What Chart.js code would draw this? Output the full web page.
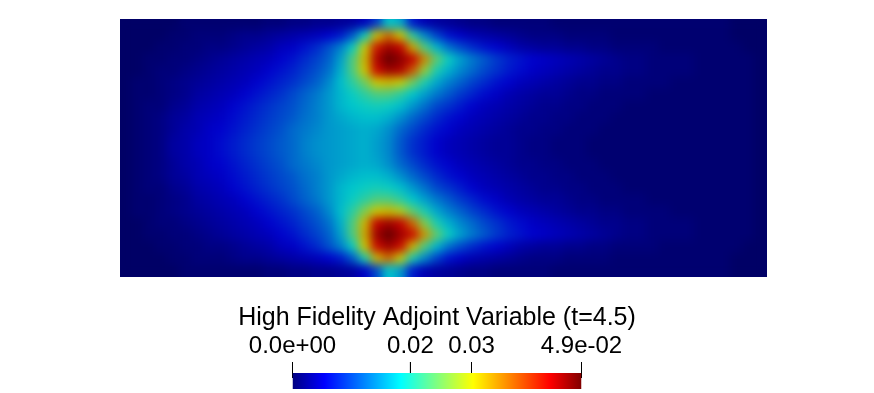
<!DOCTYPE html>
<html>
<head>
<meta charset="utf-8">
<script src="https://cdn.jsdelivr.net/npm/chart.js@4"></script>
<style>
	html, body { margin: 0; padding: 0; background: #fff; }
	#page { position: relative; width: 874px; height: 393px; overflow: hidden; }
	#fieldBox { position: absolute; left: 120px; top: 19px; width: 647px; height: 258px; }
	#barBox { position: absolute; left: 0; top: 295px; width: 874px; height: 98px; }
</style>
</head>
<body>
<div id="page">
	<div id="fieldBox"><canvas id="field" width="647" height="258"></canvas></div>
	<div id="barBox"><canvas id="bar" width="874" height="98"></canvas></div>
</div>
<script>
var titleText = "High Fidelity Adjoint Variable (t=4.5)";
var rangeMax = 0.049;
var tickValues = [0, 0.02, 0.03035, 0.049];
var tickLabels = ["0.0e+00", "0.02", "0.03", "4.9e-02"];

// jet colour map as the legend shows it
var jetStops = [0, 0.11, 0.375, 0.625, 0.89, 1];
var jetColours = [[0, 0, 128], [0, 0, 255], [0, 255, 255], [255, 255, 0], [255, 0, 0], [128, 0, 0]];
var surfaceShade = 0.8;

// field values, in units of 1e-3, top row first
var fieldRows = [
	[0,0,0,0,0,.5,.5,.5,.5,.5,.5,.5,1,1,1.5,1.5,2,2,2.5,3,4.5,9,18,16,7,4,3,2.5,2,1.5,1.5,1,1,1,1,1,.5,.5,.5,.5,.5,.5,.5,.5,.5,.5,.5,.5,.5,.5,.5,0,0,0],
	[0,0,0,0,.5,.5,1,1,1,1.5,2,2,2.5,3,3.5,4,4.5,5.5,7,11,19,31,37,31,21,14,9.5,6.5,5,4,3.5,3,2.5,2,1.5,1.5,1.5,1,1,1,1,.5,.5,.5,.5,.5,.5,.5,.5,.5,.5,0,0,0],
	[0,0,0,.5,.5,1,1,1.5,1.5,2,2.5,3,3.5,4.5,5,6.5,8,10.5,13.5,19,30,42,46,44,33,23,17,12.5,10,8,6.5,5.5,4.5,3.5,3,2.5,2.5,2,2,1.5,1.5,1,1,1,1,.5,.5,.5,.5,.5,.5,.5,0,0],
	[0,0,.5,.5,1,1,1.5,2,2.5,3,3.5,4,4.5,5.5,6.5,8,9.5,11.5,15.5,23,32,45,49,47,44,35,24,19,15.5,13,11,9,7.5,6.5,5.5,5,4.5,4,3.5,3,2.5,2,1.5,1.5,1,1,1,1,.5,.5,.5,.5,.5,0],
	[0,0,.5,1,1,1.5,2,2.5,3,3.5,4,4.5,5.5,6.5,7.5,9,10.5,12.5,16.5,23,31,43,46,45,38,27,20,16.5,14,12,10,8.5,7,6,5,4.5,4,3.5,3,2.5,2,2,1.5,1.5,1,1,1,1,.5,.5,.5,.5,.5,0],
	[0,.5,.5,1,1.5,2,2.5,3,3.5,4,4.5,5.5,6.5,7.5,8.5,10,11.5,14,17.5,21,25,31,32,30,25,20,16,13.5,11.5,9.5,8,6.5,5.5,4.5,4,3.5,3,2.5,2,2,1.5,1.5,1,1,1,1,.5,.5,.5,.5,.5,.5,.5,0],
	[0,.5,.5,1,1.5,2,3,3.5,4,4.5,5.5,6.5,7.5,8.5,10,11.5,13,15,17,19,21,23,23,21,18,15.5,13,11,9,7.5,6,5,4,3.5,3,2.5,2.5,2,1.5,1.5,1,1,1,1,.5,.5,.5,.5,.5,.5,.5,.5,.5,0],
	[0,.5,1,1,2,2.5,3.5,4,4.5,5.5,6.5,7.5,8.5,9.5,10.5,12,13.5,15,17,18,19,19.5,19,17.5,15,12.5,10,8.5,7,5.5,4.5,4,3.5,3,2.5,2,2,1.5,1.5,1,1,1,.5,.5,.5,.5,.5,.5,.5,.5,.5,.5,.5,0],
	[0,.5,1,1.5,2.5,3,4,4.5,5,6,7,8,9,10,11,12.5,13.5,15,16,17,17.5,17.5,16.5,14.5,12,10,8,6.5,5.5,4.5,4,3.5,3,2.5,2,2,1.5,1.5,1,1,1,.5,.5,.5,.5,.5,.5,.5,.5,.5,.5,.5,.5,0],
	[0,.5,1,1.5,2.5,3.5,4,5,5.5,6.5,7.5,8.5,9.5,10.5,12,13,14,15,15.5,16,16.5,16,14.5,12,10,8,6.5,5.5,4.5,4,3.5,3,2.5,2,2,1.5,1.5,1,1,1,.5,.5,.5,.5,.5,.5,.5,.5,.5,.5,.5,.5,.5,0],
	[0,.5,1,1.5,3,3.5,4.5,5,6,7,8,9,10,11,12,13.5,14.5,15,15.5,16,16.5,15.5,14,11,8.5,7,5.5,4.5,4,3.5,3,2.5,2.5,2,1.5,1.5,1,1,1,.5,.5,.5,.5,.5,.5,.5,.5,.5,.5,.5,.5,.5,.5,0],
	[0,.5,1,1.5,3,3.5,4.5,5,6,7,8,9,10,11,12,13.5,14.5,15,15.5,16,16.5,15.5,14,11,8.5,7,5.5,4.5,4,3.5,3,2.5,2.5,2,1.5,1.5,1,1,1,.5,.5,.5,.5,.5,.5,.5,.5,.5,.5,.5,.5,.5,.5,0],
	[0,.5,1,1.5,2.5,3.5,4,5,5.5,6.5,7.5,8.5,9.5,10.5,12,13,14,15,15.5,16,16.5,16,14.5,12,10,8,6.5,5.5,4.5,4,3.5,3,2.5,2,2,1.5,1.5,1,1,1,.5,.5,.5,.5,.5,.5,.5,.5,.5,.5,.5,.5,.5,0],
	[0,.5,1,1.5,2.5,3,4,4.5,5,6,7,8,9,10,11,12.5,13.5,15,16,17,17.5,17.5,16.5,14.5,12,10,8,6.5,5.5,4.5,4,3.5,3,2.5,2,2,1.5,1.5,1,1,1,.5,.5,.5,.5,.5,.5,.5,.5,.5,.5,.5,.5,0],
	[0,.5,1,1,2,2.5,3.5,4,4.5,5.5,6.5,7.5,8.5,9.5,10.5,12,13.5,15,17,18,19,19.5,19,17.5,15,12.5,10,8.5,7,5.5,4.5,4,3.5,3,2.5,2,2,1.5,1.5,1,1,1,.5,.5,.5,.5,.5,.5,.5,.5,.5,.5,.5,0],
	[0,.5,.5,1,1.5,2,3,3.5,4,4.5,5.5,6.5,7.5,8.5,10,11.5,13,15,17,19,21,23,23,21,18,15.5,13,11,9,7.5,6,5,4,3.5,3,2.5,2.5,2,1.5,1.5,1,1,1,1,.5,.5,.5,.5,.5,.5,.5,.5,.5,0],
	[0,.5,.5,1,1.5,2,2.5,3,3.5,4,4.5,5.5,6.5,7.5,8.5,10,11.5,14,17.5,21,26,31,32,29,24,20,16,13.5,11.5,9.5,8,6.5,5.5,4.5,4,3.5,3,2.5,2,2,1.5,1.5,1,1,1,1,.5,.5,.5,.5,.5,.5,.5,0],
	[0,0,.5,1,1,1.5,2,2.5,3,3.5,4,4.5,5.5,6.5,7.5,9,10.5,12.5,16.5,23,32,44,46,44,37,26,20,16.5,14,12,10,8.5,7,6,5,4.5,4,3.5,3,2.5,2,2,1.5,1.5,1,1,1,1,.5,.5,.5,.5,.5,0],
	[0,0,.5,.5,1,1,1.5,2,2.5,3,3.5,4,4.5,5.5,6.5,8,9.5,11.5,15.5,23,33,46,49,46,43,34,24,19,15.5,13,11,9,7.5,6.5,5.5,5,4.5,4,3.5,3,2.5,2,1.5,1.5,1,1,1,1,.5,.5,.5,.5,.5,0],
	[0,0,0,.5,.5,1,1,1.5,1.5,2,2.5,3,3.5,4.5,5,6.5,8,10.5,13.5,19,31,43,46,43,32,23,17,12.5,10,8,6.5,5.5,4.5,3.5,3,2.5,2.5,2,2,1.5,1.5,1,1,1,1,.5,.5,.5,.5,.5,.5,.5,0,0],
	[0,0,0,0,.5,.5,1,1,1,1.5,2,2,2.5,3,3.5,4,4.5,5.5,7,11,20,32,37,30,20,14,9.5,6.5,5,4,3.5,3,2.5,2,1.5,1.5,1.5,1,1,1,1,.5,.5,.5,.5,.5,.5,.5,.5,.5,.5,0,0,0],
	[0,0,0,0,0,.5,.5,.5,.5,.5,.5,.5,1,1,1.5,1.5,2,2,2.5,3,5,10,18,15,7,4,3,2.5,2,1.5,1.5,1,1,1,1,1,.5,.5,.5,.5,.5,.5,.5,.5,.5,.5,.5,.5,.5,.5,.5,0,0,0]
];

function jetRgb(t, shade) {
	var k = 1;
	while (k < jetStops.length - 1 && t > jetStops[k]) k++;
	var f = (t - jetStops[k - 1]) / (jetStops[k] - jetStops[k - 1]);
	f = Math.max(0, Math.min(1, f));
	var c = [0, 1, 2].map(function(n) {
		return Math.round((jetColours[k - 1][n] + (jetColours[k][n] - jetColours[k - 1][n]) * f) * shade);
	});
	return "rgb(" + c.join(",") + ")";
}

// one square point per grid cell
var cells = [];
fieldRows.forEach(function(row, j) {
	row.forEach(function(v, i) {
		cells.push({ x: i + 0.5, y: j + 0.5, v: v });
	});
});

// melts the cell edges together after the points are drawn
// drawn a few times so the canvas edge doesn't stay sharp
var smoothField = {
	id: "smoothField",
	afterDatasetsDraw: function(chart) {
		var copy = document.createElement("canvas");
		copy.width = chart.width;
		copy.height = chart.height;
		copy.getContext("2d").drawImage(chart.canvas, 0, 0);
		var ctx = chart.ctx;
		ctx.save();
		ctx.filter = "blur(5px)";
		for (var n = 0; n < 4; n++) ctx.drawImage(copy, 0, 0);
		ctx.restore();
	}
};

new Chart(document.getElementById("field"), {
	type: "scatter",
	data: {
		datasets: [{
			data: cells,
			pointStyle: "rect",
			pointRadius: 10,
			borderWidth: 0,
			clip: 0,
			backgroundColor: function(c) {
				return c.raw ? jetRgb(c.raw.v / 49, surfaceShade) : "#000";
			}
		}]
	},
	options: {
		responsive: false,
		animation: false,
		layout: { padding: 0, autoPadding: false },
		plugins: { legend: { display: false }, tooltip: { enabled: false } },
		scales: {
			x: { type: "linear", min: 0, max: fieldRows[0].length, display: false },
			y: { type: "linear", min: 0, max: fieldRows.length, reverse: true, display: false }
		}
	},
	plugins: [smoothField]
});

function barGradient(c) {
	var area = c.chart.chartArea;
	if (!area) return "#000";
	var g = c.chart.ctx.createLinearGradient(area.left, 0, area.right, 0);
	jetStops.forEach(function(s, n) {
		g.addColorStop(s, "rgb(" + jetColours[n].join(",") + ")");
	});
	return g;
}

// legend: thick line for the ramp, thin lines for the tick marks
var barDatasets = [{
	data: [{ x: 0, y: 19 }, { x: rangeMax, y: 19 }],
	borderColor: barGradient,
	borderWidth: 16
}];
tickValues.forEach(function(v) {
	barDatasets.push({
		data: [{ x: v, y: 0 }, { x: v, y: 16 }],
		borderColor: "#000",
		borderWidth: 1,
		clip: 2
	});
});

function sideWidth(scale) {
	scale.width = 292.5;
}

new Chart(document.getElementById("bar"), {
	type: "scatter",
	data: { datasets: barDatasets },
	options: {
		responsive: false,
		animation: false,
		showLine: true,
		elements: { point: { radius: 0 }, line: { tension: 0 } },
		layout: { padding: { bottom: 4 }, autoPadding: false },
		plugins: {
			legend: { display: false },
			tooltip: { enabled: false },
			title: {
				display: true,
				text: titleText,
				color: "#000",
				font: { family: "Liberation Sans", size: 25, weight: "normal", lineHeight: 1.2 },
				padding: { top: 8, bottom: 0 }
			}
		},
		scales: {
			x: {
				type: "linear",
				position: "top",
				min: 0,
				max: rangeMax,
				grid: { display: false, drawTicks: false },
				border: { display: false },
				afterBuildTicks: function(scale) {
					scale.ticks = tickValues.map(function(v) { return { value: v }; });
				},
				afterFit: function(scale) {
					scale.height = 29;
					scale.paddingLeft = 0;
					scale.paddingRight = 0;
				},
				ticks: {
					autoSkip: false,
					maxRotation: 0,
					padding: 1,
					color: "#000",
					font: { family: "Liberation Sans", size: 24 },
					callback: function(v) { return tickLabels[tickValues.indexOf(v)]; }
				}
			},
			y: {
				type: "linear",
				min: 0,
				max: 27,
				reverse: true,
				position: "left",
				grid: { display: false, drawTicks: false },
				border: { display: false },
				ticks: { display: false },
				afterFit: sideWidth
			},
			yRight: {
				type: "linear",
				position: "right",
				display: true,
				grid: { display: false, drawTicks: false },
				border: { display: false },
				ticks: { display: false },
				afterFit: sideWidth
			}
		}
	}
});
</script>
</body>
</html>
